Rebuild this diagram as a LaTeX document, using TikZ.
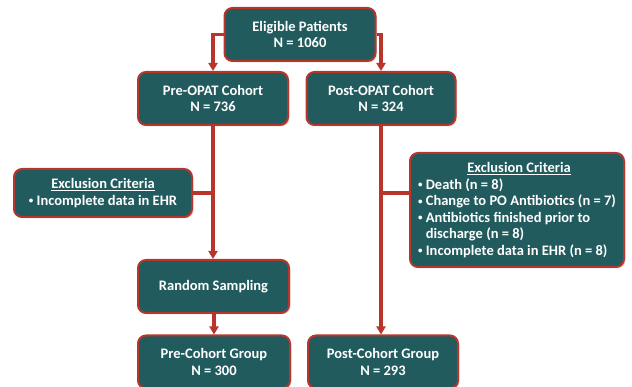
\documentclass[tikz,border=0pt]{standalone}
\usepackage{fontspec}
\setmainfont{Carlito}
\usetikzlibrary{arrows.meta,shadows}
\definecolor{boxfill}{HTML}{225B5E}
\definecolor{boxline}{HTML}{B8352B}
\definecolor{arrowred}{HTML}{B8352B}
\newcommand{\bul}{{\fontsize{9}{9}\selectfont\raisebox{0.3ex}{•}}\ }
\tikzset{
  box/.style={draw=boxline, line width=2pt, fill=boxfill, rounded corners=8pt,
    text=white, font=\bfseries\fontsize{14.5}{16.5}\selectfont, align=center,
    inner sep=0pt, drop shadow={shadow xshift=1.5pt, shadow yshift=-1.5pt, opacity=0.25}},
  conn/.style={draw=arrowred, line width=3.2pt},
  arr/.style={conn, -{Triangle[width=9pt,length=8pt]}}
}
\begin{document}
\begin{tikzpicture}[x=1pt,y=-1pt]
\useasboundingbox (0,0) rectangle (632,387);
\node[box, minimum width=151pt, minimum height=53pt] (elig) at (300,34.5) {Eligible Patients\\N = 1060};
\node[box, minimum width=150pt, minimum height=53pt] (pre) at (213,98.5) {Pre-OPAT Cohort\\N = 736};
\node[box, minimum width=149pt, minimum height=53pt] (post) at (381,98.5) {Post-OPAT Cohort\\N = 324};
\node[box, minimum width=178pt, minimum height=48pt] (exl) at (103,193) {\underline{Exclusion Criteria}\\\bul Incomplete data in EHR};
\node[box, minimum width=151pt, minimum height=53pt] (rand) at (213.5,286.5) {Random Sampling};
\node[box, minimum width=214pt, minimum height=114pt, align=left] (exr) at (517,210) {\hspace*{3.4em}\underline{Exclusion Criteria}\\
\bul Death (n = 8)\\
\bul Change to PO Antibiotics (n = 7)\\
\bul Antibiotics finished prior to\\
\phantom{\bul}discharge (n = 8)\\
\bul Incomplete data in EHR (n = 8)};
\node[box, minimum width=152pt, minimum height=53pt] (prec) at (214,362) {Pre-Cohort Group\\N = 300};
\node[box, minimum width=150pt, minimum height=53pt] (postc) at (383,362) {Post-Cohort Group\\N = 293};
\coordinate (jl) at (213,193);
\coordinate (jr) at (381,193);
\draw[arr] (elig.west) -| (pre.north);
\draw[arr] (elig.east) -| (post.north);
\draw[arr] (pre.south) -- (rand.north -| pre.south);
\draw[conn] (exl.east) -- (jl);
\draw[arr] (rand.south -| prec.north) -- (prec.north);
\draw[arr] (post.south) -- (postc.north -| post.south);
\draw[conn] (jr -| exr.west) -- (jr);
\end{tikzpicture}
\end{document}
